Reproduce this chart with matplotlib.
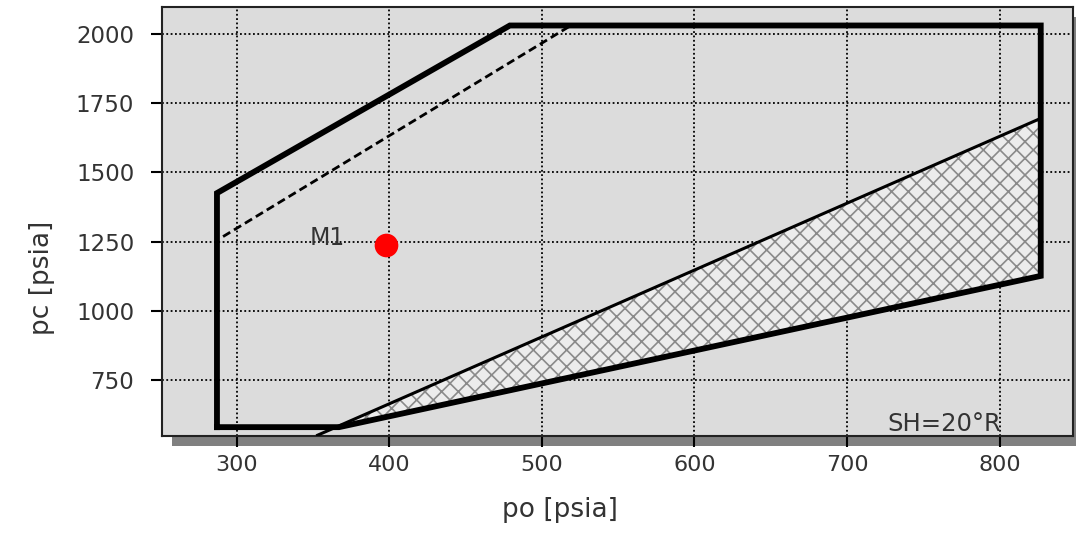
import matplotlib
matplotlib.use("Agg")
import matplotlib.pyplot as plt
from matplotlib.patches import Rectangle

# operating envelope outline (thick)
env_po = [287, 287, 479, 827, 827, 367, 287]
env_pc = [580, 1425, 2030, 2030, 1126, 580, 580]

# dashed limit line
dash_po = [291, 519]
dash_pc = [1268, 2030]

# thin upper line of the hatched zone
thin_po = [353, 825]
thin_pc = [551, 1690]

# hatched zone corners
hatch_po = [367, 825, 827, 367]
hatch_pc = [585, 1690, 1126, 580]

point_po = [398]
point_pc = [1236]
point_name = "M1"

xticks = [300, 400, 500, 600, 700, 800]
yticks = [750, 1000, 1250, 1500, 1750, 2000]

plt.rcParams['font.family'] = ['DejaVu Sans']
plt.rcParams['hatch.linewidth'] = 1.2

fig = plt.figure(figsize=(10.76, 5.34), dpi=100)
ax = fig.add_axes([0.1506, 0.1835, 0.8464, 0.8035])
ax.set_zorder(2)

# drop shadow behind the plot frame
pos = ax.get_position()
dx, dy = 10 / 1076, 10 / 534
fig.patches.append(Rectangle((pos.x0 + dx, pos.y0 - dy), pos.width, pos.height,
                             transform=fig.transFigure, facecolor="#808080",
                             edgecolor="none", zorder=-1))

ax.set_facecolor("#dcdcdc")
ax.set_xlim(251, 848)
ax.set_ylim(548, 2097)

ax.fill(hatch_po, hatch_pc, facecolor="#ececec", edgecolor="#8a8a8a",
        hatch="xx", linewidth=0, zorder=2)
ax.plot(thin_po, thin_pc, color="black", lw=2.2, zorder=3)
ax.plot(dash_po, dash_pc, color="black", lw=2.0, ls=(0, (3, 1.6)), zorder=3)
ax.plot(env_po, env_pc, color="black", lw=4.2, solid_joinstyle="miter", zorder=4)

ax.scatter(point_po, point_pc, s=290, color="red", zorder=5, linewidths=0)
ax.text(point_po[0] - 27, point_pc[0], point_name, fontsize=17,
        color="#333333", ha="right", va="baseline", zorder=5)
ax.text(764, 566, "SH=20°R", fontsize=17.5, color="#333333", ha="center",
        va="baseline", zorder=5)

ax.set_xticks(xticks)
ax.set_yticks(yticks)
ax.grid(True, color="black", ls=(0, (1, 1.4)), lw=1.3)
ax.set_axisbelow(True)
ax.tick_params(direction="out", length=8, width=1.5, labelsize=16,
               labelcolor="#333333", pad=6)
ax.tick_params(axis="y", labelsize=16.5, pad=12)
for sp in ax.spines.values():
    sp.set_linewidth(1.5)
    sp.set_color("#222222")

ax.set_xlabel("po [psia]", fontsize=19, color="#333333")
ax.set_ylabel("pc [psia]", fontsize=19, color="#333333")
ax.xaxis.set_label_coords(0.437, -0.142)
ax.yaxis.set_label_coords(-0.117, 0.368)

fig.savefig("out.png", dpi=100)
